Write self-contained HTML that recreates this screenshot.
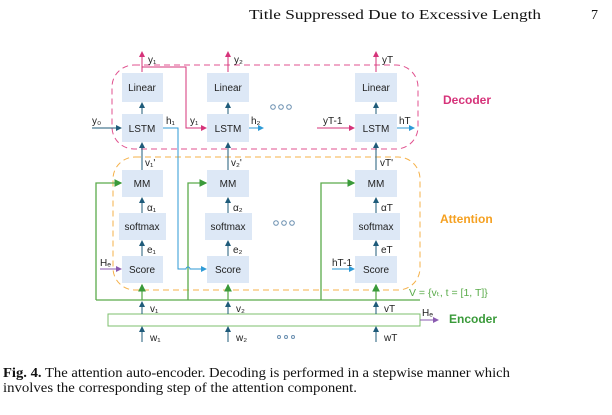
<!DOCTYPE html>
<html><head><meta charset="utf-8">
<style>
html,body{margin:0;padding:0;background:#fff;}
svg{display:block;}
.t{font-family:"Liberation Sans",sans-serif;font-size:10px;fill:#222;}
.s{font-family:"Liberation Serif",serif;fill:#111;}
.bx{fill:#dde8f6;}
</style></head>
<body>
<svg width="612" height="415" viewBox="0 0 612 415">
<defs>
<marker id="ad" markerWidth="6" markerHeight="6" refX="5" refY="3" orient="auto"><path d="M0,0 L6,3 L0,6z" fill="#1f5b7a"/></marker>
<marker id="ap" markerWidth="6" markerHeight="6" refX="5" refY="3" orient="auto"><path d="M0,0 L6,3 L0,6z" fill="#d6337a"/></marker>
<marker id="ab" markerWidth="6" markerHeight="6" refX="5" refY="3" orient="auto"><path d="M0,0 L6,3 L0,6z" fill="#2e9ad6"/></marker>
<marker id="ag" markerWidth="6" markerHeight="6" refX="5" refY="3" orient="auto"><path d="M0,0 L6,3 L0,6z" fill="#3a9a3a"/></marker>
<marker id="av" markerWidth="6" markerHeight="6" refX="5" refY="3" orient="auto"><path d="M0,0 L6,3 L0,6z" fill="#8a5bb0"/></marker>
</defs>
<text class="s" x="249" y="19" font-size="14" textLength="292" lengthAdjust="spacingAndGlyphs">Title Suppressed Due to Excessive Length</text>
<text class="s" x="591" y="19" font-size="14">7</text>

<rect x="112" y="65" width="306" height="84" rx="22" fill="none" stroke="#e0528f" stroke-dasharray="6,4"/>
<rect x="113" y="157" width="307" height="133" rx="22" fill="none" stroke="#f5b14a" stroke-dasharray="6,4"/>
<text x="443" y="104" font-family="Liberation Sans,sans-serif" font-size="12" font-weight="bold" fill="#d6337a">Decoder</text>
<text x="440" y="223" font-family="Liberation Sans,sans-serif" font-size="12" font-weight="bold" fill="#f5a020">Attention</text>
<text x="449" y="323" font-family="Liberation Sans,sans-serif" font-size="12" font-weight="bold" fill="#3a9a3a">Encoder</text>
<text x="409" y="296" font-family="Liberation Sans,sans-serif" font-size="10.5" fill="#5aab4a">V = {vₜ, t = [1, T]}</text>

<g stroke="#5aab4a" fill="none" stroke-width="1.3">
<path d="M96,300 H420"/>
<path d="M96,300 V183 H121" marker-end="url(#ag)"/>
<path d="M188,300 V183 H206" marker-end="url(#ag)"/>
<path d="M321,300 V183 H354" marker-end="url(#ag)"/>
<path d="M142,300 V285" marker-end="url(#ag)"/>
<path d="M228,300 V285" marker-end="url(#ag)"/>
<path d="M376,300 V285" marker-end="url(#ag)"/>
</g>
<rect x="108" y="314" width="312" height="12" fill="none" stroke="#7cbf6c"/>
<path d="M420,320 H438" stroke="#8a5bb0" marker-end="url(#av)"/>
<text class="t" x="422" y="316">Hₑ</text>

<path d="M142,72 V52" stroke="#d6337a" marker-end="url(#ap)" fill="none"/>
<path d="M228,72 V52" stroke="#d6337a" marker-end="url(#ap)" fill="none"/>
<path d="M376,72 V52" stroke="#d6337a" marker-end="url(#ap)" fill="none"/>
<path d="M142,67 H186 V128 H206" stroke="#d6337a" marker-end="url(#ap)" fill="none"/>
<path d="M317,128 H354" stroke="#d6337a" marker-end="url(#ap)" fill="none"/>
<path d="M163,128 H178 V269 H186 a2,2 0 0 1 4,0 H206" stroke="#2e9ad6" marker-end="url(#ab)" fill="none"/>
<path d="M249,128 H263" stroke="#2e9ad6" marker-end="url(#ab)" fill="none"/>
<path d="M397,128 H414" stroke="#2e9ad6" marker-end="url(#ab)" fill="none"/>
<path d="M332,269 H354" stroke="#2e9ad6" marker-end="url(#ab)" fill="none"/>
<path d="M100,269 H121" stroke="#8a5bb0" marker-end="url(#av)" fill="none"/>
<path d="M92,128 H121" stroke="#1f5b7a" marker-end="url(#ad)" fill="none"/>

<g stroke="#1f5b7a" fill="none">
<path d="M142,114 V103" marker-end="url(#ad)"/><path d="M228,114 V103" marker-end="url(#ad)"/><path d="M376,114 V103" marker-end="url(#ad)"/>
<path d="M142,170 V143" marker-end="url(#ad)"/><path d="M228,170 V143" marker-end="url(#ad)"/><path d="M376,170 V143" marker-end="url(#ad)"/>
<path d="M142,213 V198" marker-end="url(#ad)"/><path d="M228,213 V198" marker-end="url(#ad)"/><path d="M376,213 V198" marker-end="url(#ad)"/>
<path d="M142,256 V241" marker-end="url(#ad)"/><path d="M228,256 V241" marker-end="url(#ad)"/><path d="M376,256 V241" marker-end="url(#ad)"/>
<path d="M142,314 V302" marker-end="url(#ad)"/><path d="M228,314 V302" marker-end="url(#ad)"/><path d="M376,314 V302" marker-end="url(#ad)"/>
<path d="M142,342 V327" marker-end="url(#ad)"/><path d="M228,342 V327" marker-end="url(#ad)"/><path d="M376,342 V327" marker-end="url(#ad)"/>
</g>

<g>
<rect class="bx" x="122" y="73" width="41" height="29"/><rect class="bx" x="207" y="73" width="42" height="29"/><rect class="bx" x="355" y="73" width="42" height="29"/>
<rect class="bx" x="122" y="114" width="41" height="28"/><rect class="bx" x="207" y="114" width="42" height="28"/><rect class="bx" x="355" y="114" width="42" height="28"/>
<rect class="bx" x="122" y="170" width="41" height="27"/><rect class="bx" x="207" y="170" width="42" height="27"/><rect class="bx" x="355" y="170" width="42" height="27"/>
<rect class="bx" x="119" y="213" width="47" height="27"/><rect class="bx" x="205" y="213" width="47" height="27"/><rect class="bx" x="353" y="213" width="47" height="27"/>
<rect class="bx" x="122" y="256" width="41" height="27"/><rect class="bx" x="207" y="256" width="42" height="27"/><rect class="bx" x="355" y="256" width="42" height="27"/>
</g>
<g class="t" text-anchor="middle">
<text x="142" y="91">Linear</text><text x="228" y="91">Linear</text><text x="376" y="91">Linear</text>
<text x="142" y="132">LSTM</text><text x="228" y="132">LSTM</text><text x="376" y="132">LSTM</text>
<text x="142" y="187">MM</text><text x="228" y="187">MM</text><text x="376" y="187">MM</text>
<text x="142" y="230">softmax</text><text x="228" y="230">softmax</text><text x="376" y="230">softmax</text>
<text x="142" y="273">Score</text><text x="228" y="273">Score</text><text x="376" y="273">Score</text>
</g>
<g class="t">
<text x="148" y="63">y₁</text><text x="234" y="63">y₂</text><text x="382" y="63">yT</text>
<text x="92" y="124">y₀</text><text x="190" y="124">y₁</text><text x="323" y="124">yT-1</text>
<text x="166" y="124">h₁</text><text x="251" y="124">h₂</text><text x="399" y="124">hT</text>
<text x="145" y="166">v₁'</text><text x="231" y="166">v₂'</text><text x="380" y="166">vT'</text>
<text x="147" y="211">α₁</text><text x="233" y="211">α₂</text><text x="381" y="211">αT</text>
<text x="147" y="253">e₁</text><text x="233" y="253">e₂</text><text x="381" y="253">eT</text>
<text x="100" y="266">Hₑ</text><text x="332" y="266">hT-1</text>
<text x="150" y="312">v₁</text><text x="236" y="312">v₂</text><text x="384" y="312">vT</text>
<text x="150" y="341">w₁</text><text x="236" y="341">w₂</text><text x="384" y="341">wT</text>
</g>
<g fill="none" stroke="#6a8fb0"><circle cx="273" cy="107" r="2.3"/><circle cx="281" cy="107" r="2.3"/><circle cx="289" cy="107" r="2.3"/>
<circle cx="276" cy="223" r="2.3"/><circle cx="284" cy="223" r="2.3"/><circle cx="292" cy="223" r="2.3"/>
<circle cx="279" cy="337" r="1.5"/><circle cx="286" cy="337" r="1.5"/><circle cx="293" cy="337" r="1.5"/></g>

<text class="s" x="3" y="377" font-size="14" textLength="507" lengthAdjust="spacingAndGlyphs"><tspan font-weight="bold">Fig. 4.</tspan> The attention auto-encoder. Decoding is performed in a stepwise manner which</text>
<text class="s" x="3" y="392" font-size="14" textLength="354" lengthAdjust="spacingAndGlyphs">involves the corresponding step of the attention component.</text>
</svg>
</body></html>
